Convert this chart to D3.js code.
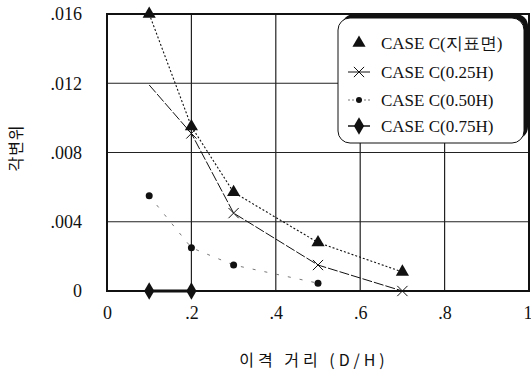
<!DOCTYPE html>
<html>
<head>
<meta charset="utf-8">
<script src="https://cdn.jsdelivr.net/npm/d3@7"></script>
<style>
    body { margin: 0; background: white; }
    text { font-family: "Liberation Serif", "DejaVu Serif", serif; fill: #111; }
    .kr { font-family: "Noto Sans CJK KR", sans-serif; }
</style>
</head>
<body>
<div class="chart-ctn"></div>
<script>
// data
const xTicks = [0, 0.2, 0.4, 0.6, 0.8, 1];
const xTickLabels = ['0', '.2', '.4', '.6', '.8', '1'];
const yTicks = [0, 0.004, 0.008, 0.012, 0.016];
const yTickLabels = ['0', '.004', '.008', '.012', '.016'];

const seriesNames = ['CASE C(지표면)', 'CASE C(0.25H)', 'CASE C(0.50H)', 'CASE C(0.75H)'];

const surfaceX = [0.1, 0.2, 0.3, 0.5, 0.7];
const surfaceY = [0.016, 0.0095, 0.0057, 0.0028, 0.0011];

const h25X = [0.1, 0.2, 0.3, 0.5, 0.7];
const h25Y = [0.0119, 0.0091, 0.0045, 0.0015, 0.0];

const h50X = [0.1, 0.2, 0.3, 0.5];
const h50Y = [0.0055, 0.0025, 0.0015, 0.00045];

const h75X = [0.1, 0.2];
const h75Y = [0.0, 0.0];

const w = 531, h = 374;
const padding = { left: 107, right: 2, top: 14, bottom: 83 };

let svg = d3.select('.chart-ctn')
    .append('svg')
    .attr('width', w)
    .attr('height', h)
    .style('background-color', 'white');

let x = d3.scaleLinear()
    .domain([0, 1])
    .range([padding.left, w - padding.right]);

let y = d3.scaleLinear()
    .domain([0, 0.016])
    .range([h - padding.bottom, padding.top]);

// grid
svg.append('g')
    .selectAll('line')
    .data(xTicks.slice(1, -1))
    .join('line')
    .attr('x1', d => x(d)).attr('x2', d => x(d))
    .attr('y1', y(0)).attr('y2', y(0.016))
    .attr('stroke', '#222').attr('stroke-width', 1.2);

svg.append('g')
    .selectAll('line')
    .data(yTicks.slice(1, -1))
    .join('line')
    .attr('x1', x(0)).attr('x2', x(1))
    .attr('y1', d => y(d)).attr('y2', d => y(d))
    .attr('stroke', '#222').attr('stroke-width', 1.2);

// frame
svg.append('rect')
    .attr('x', x(0)).attr('y', y(0.016))
    .attr('width', x(1) - x(0)).attr('height', y(0) - y(0.016))
    .attr('fill', 'none').attr('stroke', '#111').attr('stroke-width', 2);

// axes
const xAxis = d3.axisBottom(x)
    .tickValues(xTicks)
    .tickSize(0)
    .tickPadding(15)
    .tickFormat((d, i) => xTickLabels[i]);
const yAxis = d3.axisLeft(y)
    .tickValues(yTicks)
    .tickSize(0)
    .tickPadding(25)
    .tickFormat((d, i) => yTickLabels[i]);

let xg = svg.append('g')
    .attr('id', 'x-axis')
    .attr('transform', 'translate(0,' + y(0) + ')')
    .call(xAxis)
    .attr('font-family', '"Liberation Serif", serif')
    .attr('font-size', 18);
xg.select('.domain').remove();
xg.selectAll('.tick')
    .filter(d => d === 1)
    .select('text')
    .attr('text-anchor', 'end')
    .attr('dx', 3);

let yg = svg.append('g')
    .attr('id', 'y-axis')
    .attr('transform', 'translate(' + x(0) + ',0)')
    .call(yAxis)
    .attr('font-family', '"Liberation Serif", serif')
    .attr('font-size', 18);
yg.select('.domain').remove();

svg.append('text')
    .attr('class', 'kr')
    .attr('x', 314)
    .attr('y', 366)
    .attr('text-anchor', 'middle')
    .style('font-size', '16px')
    .style('letter-spacing', '4px')
    .text('이격 거리 (D/H)');

svg.append('text')
    .attr('class', 'kr')
    .attr('x', -148)
    .attr('y', 22)
    .attr('text-anchor', 'middle')
    .attr('transform', 'rotate(-90)')
    .style('font-size', '16px')
    .style('letter-spacing', '1px')
    .text('각변위');

// markers
const tri = d3.symbol().type(d3.symbolTriangle).size(75);
const dia = d3.symbol().type(d3.symbolDiamond).size(90);
const cross = d3.symbol().type(d3.symbolX).size(70);

function drawLine(xs, ys, dash, width, color) {
    svg.append('path')
        .datum(xs.map((v, i) => [v, ys[i]]))
        .attr('fill', 'none')
        .attr('stroke', color)
        .attr('stroke-width', width)
        .attr('stroke-dasharray', dash)
        .attr('d', d3.line().x(d => x(d[0])).y(d => y(d[1])));
}

drawLine(surfaceX, surfaceY, '2,2', 1.1, '#111');
drawLine(h25X, h25Y, '10,2', 1, '#111');
drawLine(h50X, h50Y, '3,9', 1, '#777');
drawLine(h75X, h75Y, null, 3, '#111');

function drawMarks(xs, ys, sym, fill, stroke) {
    svg.append('g')
        .selectAll('path')
        .data(xs.map((v, i) => [v, ys[i]]))
        .join('path')
        .attr('transform', d => 'translate(' + x(d[0]) + ',' + y(d[1]) + ')')
        .attr('d', sym)
        .attr('fill', fill)
        .attr('stroke', stroke)
        .attr('stroke-width', 1);
}

drawMarks(surfaceX, surfaceY, tri, '#111', 'none');
drawMarks(h25X.slice(1), h25Y.slice(1), cross, 'none', '#111');
svg.append('g')
    .selectAll('circle')
    .data(h50X.map((v, i) => [v, h50Y[i]]))
    .join('circle')
    .attr('cx', d => x(d[0])).attr('cy', d => y(d[1]))
    .attr('r', 3.5)
    .attr('fill', '#111');
drawMarks(h75X, h75Y, dia, '#111', 'none');

// legend
const lg = { x: 338, y: 18, w: 186, h: 125 };
svg.append('rect')
    .attr('x', lg.x + 4).attr('y', lg.y - 4)
    .attr('width', lg.w).attr('height', lg.h)
    .attr('rx', 12)
    .attr('fill', '#111');
svg.append('rect')
    .attr('x', lg.x).attr('y', lg.y)
    .attr('width', lg.w).attr('height', lg.h)
    .attr('rx', 12)
    .attr('fill', 'white')
    .attr('stroke', '#111')
    .attr('stroke-width', 1);

const rowY = [43, 72, 100, 126];
const legSyms = [tri, cross, null, dia];
seriesNames.forEach((name, i) => {
    const cy = rowY[i];
    if (i > 0) {
        svg.append('line')
            .attr('x1', 348).attr('x2', 370)
            .attr('y1', cy).attr('y2', cy)
            .attr('stroke', i === 2 ? '#777' : '#111')
            .attr('stroke-width', i === 3 ? 1.5 : 1)
            .attr('stroke-dasharray', i === 2 ? '2,2' : null);
    }
    if (i === 2) {
        svg.append('circle').attr('cx', 359).attr('cy', cy).attr('r', 3).attr('fill', '#111');
    } else {
        svg.append('path')
            .attr('transform', 'translate(359,' + cy + ')')
            .attr('d', legSyms[i])
            .attr('fill', i === 1 ? 'none' : '#111')
            .attr('stroke', i === 1 ? '#111' : 'none');
    }
    svg.append('text')
        .attr('x', 381)
        .attr('y', cy + 6)
        .style('font-size', '17px')
        .text(name);
});
</script>
</body>
</html>
